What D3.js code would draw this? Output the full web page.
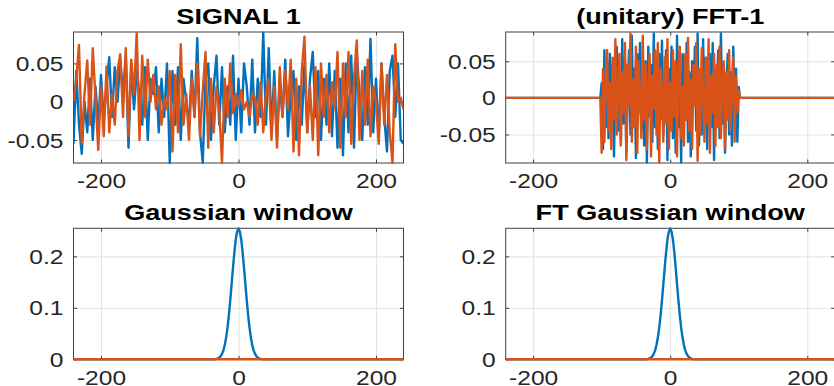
<!DOCTYPE html>
<html>
<head>
<meta charset="utf-8">
<script src="https://cdn.jsdelivr.net/npm/d3@7"></script>
<style>
  html, body { margin: 0; padding: 0; background: #ffffff; overflow: hidden; }
  svg { display: block; }
  text { font-family: "Liberation Sans", Arial, Helvetica, sans-serif; }
</style>
</head>
<body>
<svg id="chart" width="834" height="386"></svg>
<script>
// ---------------- DATA ----------------
const titles = ["SIGNAL 1", "(unitary) FFT-1", "Gaussian window", "FT Gaussian window"];
const xTicks = [-200, 0, 200];
const yTicksTop = [-0.05, 0, 0.05];
const yTicksBottom = [0, 0.1, 0.2];

// SIGNAL 1 : samples every 4 units from -240 to 240
const sigX = d3.range(-240, 241, 4);
const sig1Blue = [
  -0.055, 0.040, -0.030, -0.068, 0.000, -0.040, 0.030, -0.050, 0.020, -0.030,
  0.035, -0.025, 0.020, 0.058, -0.020, 0.045, 0.000, 0.055, 0.010, 0.060,
  -0.060, 0.050, -0.010, 0.040, 0.010, -0.030, 0.045, -0.050, 0.030, 0.010,
  0.045, -0.040, 0.030, -0.020, 0.050, -0.080, 0.040, -0.030, 0.045, -0.050,
  0.030, 0.000, -0.030, 0.040, -0.020, 0.083, -0.040, -0.080, 0.030, 0.050,
  -0.050, 0.020, 0.060, -0.030, 0.045, -0.040, 0.020, -0.030, 0.060, -0.050,
  0.030, -0.040, 0.050, 0.020, -0.030, 0.055, -0.040, 0.030, -0.020, 0.090,
  -0.030, 0.070, -0.040, 0.040, -0.050, 0.025, -0.020, 0.055, -0.045, 0.010,
  0.040, -0.050, 0.020, -0.030, 0.050, -0.040, 0.030, 0.065, -0.020, 0.040,
  -0.050, 0.030, -0.030, 0.050, -0.045, 0.040, -0.060, 0.030, -0.070, 0.050,
  -0.040, 0.060, -0.060, 0.065, 0.010, -0.050, 0.045, -0.030, 0.082, -0.040,
  0.030, -0.045, 0.050, -0.020, -0.065, 0.040, 0.060, -0.020, 0.050, -0.050,
  -0.055
];
const sig1Orange = [
  0.000, 0.030, 0.074, -0.054, 0.010, 0.054, -0.030, 0.070, 0.005, -0.063,
  0.020, -0.045, 0.046, -0.040, 0.010, -0.030, 0.040, 0.062, -0.020, 0.070,
  -0.045, 0.055, 0.010, 0.090, -0.050, 0.060, -0.020, 0.055, 0.000, 0.035,
  -0.010, 0.020, -0.030, 0.005, -0.010, 0.040, -0.065, 0.035, -0.040, 0.075,
  -0.030, 0.010, -0.050, 0.030, -0.020, 0.050, -0.045, 0.015, 0.065, -0.060,
  0.030, -0.040, 0.020, -0.010, -0.080, 0.030, -0.020, 0.050, -0.015, 0.010,
  -0.005, 0.015, -0.010, 0.000, -0.020, 0.010, 0.005, -0.030, 0.025, -0.040,
  0.010, 0.030, -0.050, 0.020, -0.060, 0.045, -0.020, 0.040, -0.010, 0.055,
  -0.065, 0.030, -0.070, 0.040, 0.085, -0.040, 0.020, -0.050, 0.045, -0.070,
  0.050, -0.020, 0.035, -0.040, 0.025, -0.010, 0.065, -0.060, 0.050, -0.020,
  0.065, -0.055, 0.030, 0.080, -0.050, 0.040, -0.030, 0.055, -0.045, 0.020,
  0.000, -0.055, 0.050, -0.030, 0.035, -0.040, -0.080, 0.075, 0.000, 0.005,
  -0.010
];

// (unitary) FFT-1 : zero outside [-100, 100], samples every 2 units inside
const fftX = [-240, -102].concat(d3.range(-100, 101, 2), [102, 240]);
const fftBlueCore = [
  0.020, -0.070, 0.065, -0.040, 0.050, -0.055, 0.060, -0.020, 0.045, -0.080,
  0.030, 0.070, -0.045, 0.025, -0.060, 0.080, -0.035, 0.055, -0.075, 0.010,
  0.065, -0.050, 0.085, -0.030, 0.040, -0.082, 0.060, -0.020, 0.075, -0.045,
  0.030, -0.065, 0.050, -0.088, 0.070, -0.025, 0.045, -0.060, 0.088, -0.040,
  0.020, -0.070, 0.060, -0.030, 0.078, -0.050, 0.015, 0.065, -0.085, 0.040,
  -0.020, 0.070, -0.055, 0.030, -0.075, 0.085, -0.040, 0.020, -0.088, 0.060,
  0.045, -0.030, 0.075, -0.060, 0.035, -0.080, 0.050, -0.010, 0.070, -0.045,
  0.088, -0.065, 0.025, -0.050, 0.080, -0.030, 0.055, -0.070, 0.040, 0.060,
  -0.040, 0.075, -0.085, 0.030, -0.020, 0.065, -0.055, 0.088, -0.035, 0.045,
  -0.075, 0.020, 0.060, -0.050, 0.035, -0.065, 0.070, -0.030, 0.040, -0.060,
  0.015
];
const fftOrangeCore = [
  -0.075, 0.040, -0.060, 0.030, 0.065, -0.045, 0.020, -0.070, 0.055, -0.030,
  0.080, -0.050, 0.010, 0.060, -0.065, 0.035, -0.020, 0.075, -0.085, 0.045,
  -0.010, 0.088, -0.060, 0.025, -0.040, 0.070, -0.075, 0.050, 0.000, -0.055,
  0.085, -0.030, 0.045, -0.070, 0.020, 0.060, -0.080, 0.030, -0.015, 0.065,
  -0.050, 0.075, -0.088, 0.040, 0.010, -0.060, 0.055, -0.035, 0.080, -0.070,
  0.020, -0.045, 0.065, -0.025, 0.050, -0.080, 0.035, 0.070, -0.055, 0.015,
  -0.065, 0.060, -0.030, 0.082, -0.045, 0.025, -0.070, 0.045, -0.010, 0.075,
  -0.086, 0.040, -0.050, 0.068, 0.005, -0.060, 0.055, -0.035, 0.080, -0.075,
  0.030, -0.020, 0.060, -0.065, 0.045, -0.040, 0.070, -0.055, 0.025, 0.050,
  -0.070, 0.035, -0.030, 0.065, -0.045, 0.020, 0.055, -0.060, 0.030, -0.020,
  0.010
];
const fftPad = [0, 0];
const fftBlue = fftPad.concat(fftBlueCore, fftPad);
const fftOrange = fftPad.concat(fftOrangeCore, fftPad);

// Gaussian window and its FT (zero outside [-40, 40], samples every 2 units)
const gaussX = [-240].concat(d3.range(-40, 41, 2), [240]);
const gaussVals = [
  0,
  0.0000, 0.0001, 0.0002, 0.0004, 0.0009, 0.0017, 0.0033, 0.0060, 0.0104, 0.0174,
  0.0277, 0.0422, 0.0615, 0.0858, 0.1144, 0.1460, 0.1780, 0.2080, 0.2325, 0.2480,
  0.2540,
  0.2480, 0.2325, 0.2080, 0.1780, 0.1460, 0.1144, 0.0858, 0.0615, 0.0422, 0.0277,
  0.0174, 0.0104, 0.0060, 0.0033, 0.0017, 0.0009, 0.0004, 0.0002, 0.0001, 0.0000,
  0
];
const ftGaussVals = gaussVals.slice();
const zeroX = [-240, 240];
const zeroVals = [0, 0];

// ---------------- DRAW ----------------
const BLUE = "#0072BD", ORANGE = "#D95319";
const AX = "#404040", GRID = "#e3e3e3";
const STRETCH = 1.26;
const svg = d3.select("#chart");

const panels = [
  { title: titles[0], x0: 73.5, x1: 403.5, y0: 32, y1: 163, yDom: [-0.080, 0.091], yTicks: yTicksTop,
    series: [{ x: sigX, y: sig1Blue, c: BLUE }, { x: sigX, y: sig1Orange, c: ORANGE }] },
  { title: titles[1], x0: 505.7, x1: 834.7, y0: 32, y1: 163, yDom: [-0.089, 0.090], yTicks: yTicksTop,
    series: [{ x: fftX, y: fftBlue, c: BLUE }, { x: fftX, y: fftOrange, c: ORANGE }] },
  { title: titles[2], x0: 73.5, x1: 403.5, y0: 228.3, y1: 359.3, yDom: [0, 0.2545], yTicks: yTicksBottom,
    series: [{ x: gaussX, y: gaussVals, c: BLUE }, { x: zeroX, y: zeroVals, c: ORANGE }] },
  { title: titles[3], x0: 505.7, x1: 834.7, y0: 228.3, y1: 359.3, yDom: [0, 0.2545], yTicks: yTicksBottom,
    series: [{ x: gaussX, y: ftGaussVals, c: BLUE }, { x: zeroX, y: zeroVals, c: ORANGE }] }
];

panels.forEach((p, i) => {
  const w = p.x1 - p.x0, h = p.y1 - p.y0;
  const x = d3.scaleLinear().domain([-240, 240]).range([0, w]);
  const y = d3.scaleLinear().domain(p.yDom).range([h, 0]);
  const g = svg.append("g").attr("transform", `translate(${p.x0},${p.y0})`);

  // grid
  g.append("g").attr("transform", `translate(0,${h})`)
    .call(d3.axisBottom(x).tickValues(xTicks).tickSize(-h).tickFormat(""))
    .call(s => { s.select(".domain").remove(); s.selectAll("line").attr("stroke", GRID).attr("stroke-width", 1); });
  g.append("g")
    .call(d3.axisLeft(y).tickValues(p.yTicks).tickSize(-w).tickFormat(""))
    .call(s => { s.select(".domain").remove(); s.selectAll("line").attr("stroke", GRID).attr("stroke-width", 1); });

  // box
  g.append("rect").attr("x", 0).attr("y", 0).attr("width", w).attr("height", h)
    .attr("fill", "none").attr("stroke", AX).attr("stroke-width", 1);

  // inward ticks on all four sides
  const tl = 3.5;
  const bottomAx = g.append("g").attr("transform", `translate(0,${h})`)
    .call(d3.axisBottom(x).tickValues(xTicks).tickSizeInner(-tl).tickSizeOuter(0).tickFormat(d => String(d)));
  const topAx = g.append("g")
    .call(d3.axisTop(x).tickValues(xTicks).tickSizeInner(-tl).tickSizeOuter(0).tickFormat(""));
  const leftAx = g.append("g")
    .call(d3.axisLeft(y).tickValues(p.yTicks).tickSizeInner(-tl).tickSizeOuter(0).tickFormat(d => String(d)));
  const rightAx = g.append("g").attr("transform", `translate(${w},0)`)
    .call(d3.axisRight(y).tickValues(p.yTicks).tickSizeInner(-tl).tickSizeOuter(0).tickFormat(""));
  [bottomAx, topAx, leftAx, rightAx].forEach(a => {
    a.select(".domain").remove();
    a.selectAll("line").attr("stroke", AX).attr("stroke-width", 1);
  });
  bottomAx.selectAll("text")
    .attr("y", 25.3).attr("dy", 0)
    .attr("transform", `scale(${STRETCH},1)`)
    .attr("font-size", "19.5px").attr("fill", "#262626")
    .attr("font-family", "'Liberation Sans', Arial, Helvetica, sans-serif");
  leftAx.selectAll("text")
    .attr("x", -10 / STRETCH).attr("dy", "0.36em")
    .attr("transform", `scale(${STRETCH},1)`)
    .attr("font-size", "19.5px").attr("fill", "#262626")
    .attr("font-family", "'Liberation Sans', Arial, Helvetica, sans-serif");

  // data, clipped to the axes area (small vertical margin)
  const cid = "clip" + i;
  svg.append("clipPath").attr("id", cid).append("rect")
    .attr("x", 0).attr("y", -2).attr("width", w).attr("height", h + 4);
  const dg = g.append("g").attr("clip-path", `url(#${cid})`);
  const line = d3.line().x(d => x(d[0])).y(d => y(d[1]));
  p.series.forEach(s => {
    dg.append("path")
      .datum(s.x.map((xv, k) => [xv, s.y[k]]))
      .attr("d", line)
      .attr("fill", "none")
      .attr("stroke", s.c)
      .attr("stroke-width", 2.4)
      .attr("stroke-linejoin", "round");
  });

  // title
  g.append("g").attr("transform", `translate(${w / 2},${-8})`)
    .append("text")
    .attr("text-anchor", "middle")
    .attr("transform", `scale(${STRETCH},1)`)
    .attr("font-size", "21.5px").attr("font-weight", "bold").attr("fill", "#000")
    .text(p.title);
});
</script>
</body>
</html>
